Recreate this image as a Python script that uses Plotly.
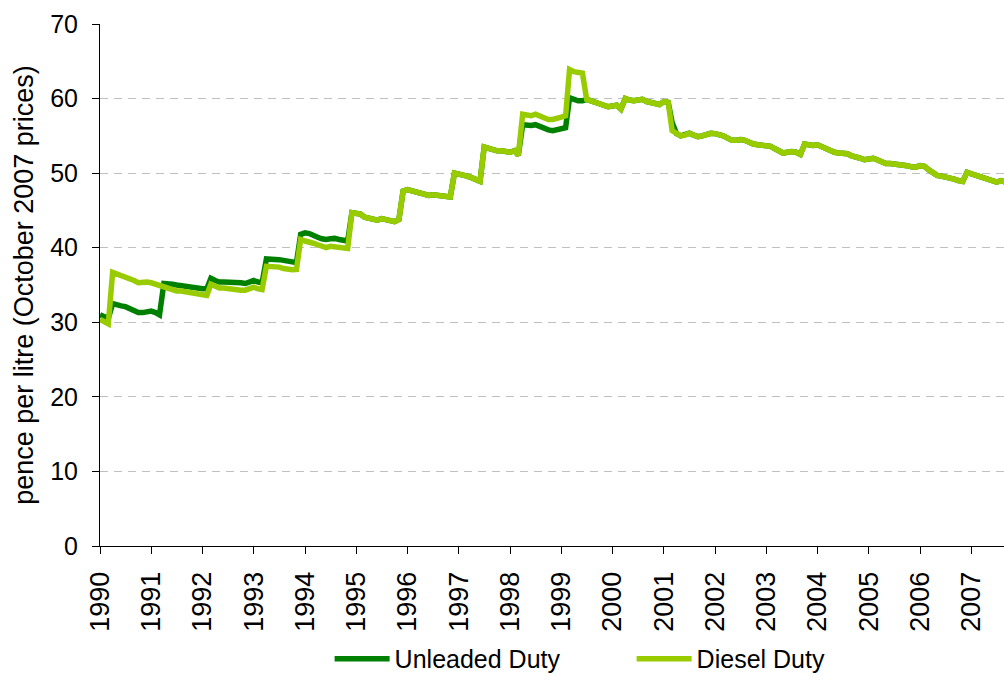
import plotly.graph_objects as go
import pandas as pd

# real fuel duty, pence per litre (October 2007 prices), monthly from Jan 1990
unleaded = [
    31.0, 30.8, 30.5, 32.5, 32.3, 32.2, 32.1, 31.8, 31.5, 31.3, 31.3, 31.4,  # 1990
    31.5, 31.3, 31.0, 35.2, 35.2, 35.1, 35.0, 34.9, 34.8, 34.7, 34.6, 34.6,  # 1991
    34.5, 34.5, 35.9, 35.6, 35.4, 35.4, 35.4, 35.4, 35.3, 35.3, 35.2, 35.4,  # 1992
    35.6, 35.4, 35.3, 38.5, 38.5, 38.4, 38.4, 38.3, 38.2, 38.1, 38.0, 41.8,  # 1993
    42.0, 41.9, 41.6, 41.4, 41.2, 41.1, 41.2, 41.25, 41.1, 41.0, 40.9, 44.7,  # 1994
    44.6, 44.5, 44.1, 43.9, 43.8, 43.7, 43.9, 43.8, 43.6, 43.5, 43.8, 47.6,  # 1995
    47.8, 47.6, 47.4, 47.2, 47.1, 47.0, 47.1, 47.05, 47.0, 46.9, 46.8, 50.0,  # 1996
    49.9, 49.8, 49.6, 49.4, 49.2, 48.9, 53.5, 53.3, 53.1, 53.0, 53.0, 52.9,  # 1997
    52.8, 53.0, 52.4, 56.5, 56.4, 56.4, 56.5, 56.2, 55.9, 55.8, 55.7, 55.8,  # 1998
    56.0, 56.1, 60.1, 59.9, 59.7, 59.7, 59.9, 59.7, 59.5, 59.3, 59.1, 58.9,  # 1999
    59.0, 59.1, 58.6, 60.0, 59.8, 59.7, 59.8, 59.9, 59.6, 59.5, 59.3, 59.2,  # 2000
    59.6, 59.5, 56.8, 55.3, 55.0, 55.1, 55.35, 55.1, 54.9, 55.0, 55.2, 55.35,  # 2001
    55.3, 55.2, 55.0, 54.7, 54.4, 54.4, 54.5, 54.4, 54.1, 53.9, 53.8, 53.7,  # 2002
    53.7, 53.6, 53.3, 53.0, 52.7, 52.8, 52.9, 52.8, 52.5, 53.9, 53.8, 53.7,  # 2003
    53.8, 53.5, 53.2, 53.0, 52.8, 52.7, 52.6, 52.6, 52.3, 52.2, 52.0, 51.8,  # 2004
    51.9, 52.0, 51.8, 51.5, 51.3, 51.3, 51.25, 51.2, 51.1, 51.0, 50.85, 50.8,  # 2005
    51.0, 50.9, 50.5, 50.1, 49.7, 49.6, 49.5, 49.4, 49.2, 49.0, 48.9, 50.1,  # 2006
    49.9, 49.7, 49.5, 49.3, 49.1, 48.9, 48.8, 49.0, 48.7, 48.6,  # 2007
]
diesel = [
    30.4, 30.1, 29.8, 36.7, 36.5, 36.3, 36.2, 35.9, 35.6, 35.3, 35.4, 35.4,  # 1990
    35.3, 35.1, 34.9, 34.6, 34.4, 34.3, 34.2, 34.2, 34.1, 33.9, 33.8, 33.7,  # 1991
    33.7, 33.6, 35.1, 34.8, 34.6, 34.6, 34.5, 34.5, 34.4, 34.3, 34.3, 34.5,  # 1992
    34.7, 34.5, 34.4, 37.5, 37.5, 37.4, 37.4, 37.2, 37.1, 37.05, 37.1, 41.1,  # 1993
    40.9, 40.8, 40.6, 40.4, 40.2, 40.0, 40.2, 40.1, 40.0, 40.0, 39.9, 44.7,  # 1994
    44.6, 44.5, 44.1, 43.9, 43.8, 43.7, 43.9, 43.8, 43.6, 43.5, 43.8, 47.6,  # 1995
    47.8, 47.6, 47.4, 47.2, 47.1, 47.0, 47.1, 47.05, 47.0, 46.9, 46.8, 50.0,  # 1996
    49.9, 49.8, 49.6, 49.4, 49.2, 48.9, 53.5, 53.3, 53.1, 53.0, 53.0, 52.9,  # 1997
    52.8, 53.0, 52.4, 57.9, 57.8, 57.7, 57.9, 57.6, 57.3, 57.2, 57.2, 57.3,  # 1998
    57.5, 57.7, 63.9, 63.6, 63.5, 63.4, 59.9, 59.7, 59.5, 59.3, 59.1, 58.9,  # 1999
    59.0, 59.1, 58.6, 60.0, 59.8, 59.7, 59.8, 59.9, 59.6, 59.5, 59.3, 59.2,  # 2000
    59.6, 59.5, 55.7, 55.3, 55.0, 55.1, 55.35, 55.1, 54.9, 55.0, 55.2, 55.35,  # 2001
    55.3, 55.2, 55.0, 54.7, 54.4, 54.4, 54.5, 54.4, 54.1, 53.9, 53.8, 53.7,  # 2002
    53.7, 53.6, 53.3, 53.0, 52.7, 52.8, 52.9, 52.8, 52.5, 53.9, 53.8, 53.7,  # 2003
    53.8, 53.5, 53.2, 53.0, 52.8, 52.7, 52.6, 52.6, 52.3, 52.2, 52.0, 51.8,  # 2004
    51.9, 52.0, 51.8, 51.5, 51.3, 51.3, 51.25, 51.2, 51.1, 51.0, 50.85, 50.8,  # 2005
    51.0, 50.9, 50.5, 50.1, 49.7, 49.6, 49.5, 49.4, 49.2, 49.0, 48.9, 50.1,  # 2006
    49.9, 49.7, 49.5, 49.3, 49.1, 48.9, 48.8, 49.0, 48.7, 48.6,  # 2007
]
months = pd.date_range("1990-01-01", periods=len(unleaded), freq="MS")

FONT = "Liberation Sans, Arial, sans-serif"

fig = go.Figure()
fig.add_trace(go.Scatter(x=months, y=unleaded, name="Unleaded Duty", mode="lines",
                         line=dict(color="#008000", width=5.5)))
fig.add_trace(go.Scatter(x=months, y=diesel, name="Diesel Duty", mode="lines",
                         line=dict(color="#99CC00", width=5.5)))

fig.update_layout(
    width=1004, height=682,
    margin=dict(l=100, r=0, t=24, b=136),
    plot_bgcolor="white", paper_bgcolor="white",
    font=dict(family=FONT, size=25, color="black"),
    # bottom of legend sits on the bottom of the figure (-136/522 in paper units)
    legend=dict(orientation="h", x=0.254, xanchor="left", y=-0.2605, yanchor="bottom",
                font=dict(size=25), itemwidth=55, traceorder="normal",
                entrywidth=232, entrywidthmode="pixels"),
)
fig.update_xaxes(
    type="date", range=["1990-01-01", "2007-08-22"], automargin=False,
    dtick="M12", tick0="1990-01-01", tickformat="%Y", tickangle=-90,
    ticks="outside", ticklen=7, tickcolor="black", ticklabelstandoff=7,
    showline=True, linecolor="black", linewidth=1, showgrid=False,
    tickfont=dict(size=27),
)
fig.update_yaxes(
    range=[0, 70], dtick=10, ticks="outside", ticklen=7, tickcolor="black",
    showline=True, linecolor="black", linewidth=1, automargin=False,
    showgrid=True, gridcolor="#c0c0c0", gridwidth=1, griddash="8px,6px",
    zeroline=False, tickfont=dict(size=25), ticklabelstandoff=9,
    title=dict(text="pence per litre (October 2007 prices)", font=dict(size=27),
               standoff=8),
)

# drop the default 8px body margin so the figure fills the window exactly
fig.write_html("out.html", config={"displayModeBar": False},
               post_script="document.body.style.margin='0';document.body.style.overflow='hidden';")
